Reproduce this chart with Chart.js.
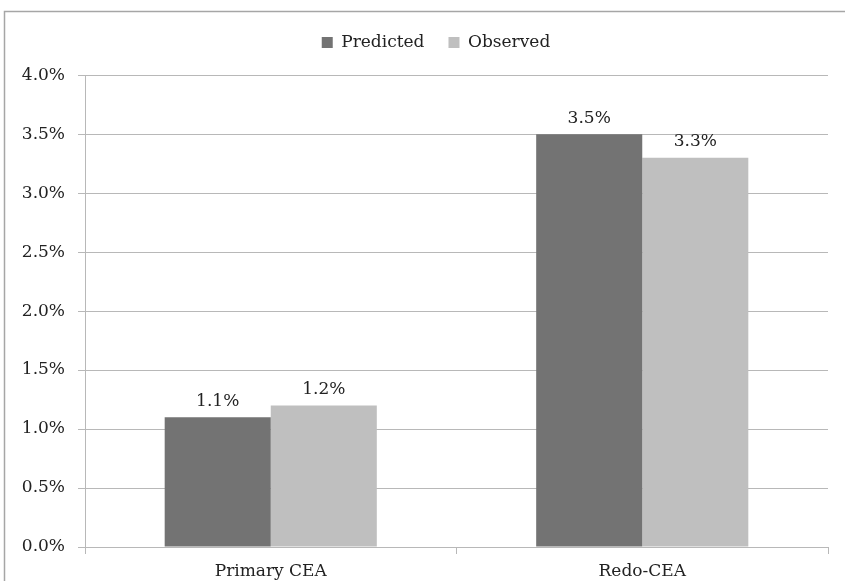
<!DOCTYPE html>
<html>
<head>
<meta charset="utf-8">
<script src="https://cdn.jsdelivr.net/npm/chart.js@4"></script>
<style>
  html, body { margin: 0; padding: 0; background: #fff; }
  #wrap { width: 845px; height: 581px; position: relative; }
</style>
</head>
<body>
<div id="wrap"><canvas id="cmpChart" width="845" height="581"></canvas></div>
<script>
// Predicted vs observed rates
const categories = ['Primary CEA', 'Redo-CEA'];
const predicted = [1.1, 3.5];
const observed = [1.2, 3.3];
const yTicks = [0, 0.5, 1.0, 1.5, 2.0, 2.5, 3.0, 3.5, 4.0];

const FONT = "'DejaVu Serif', serif";
const GRID = '#b8b8b8';

// frame around the chart, legend nudge, value labels above bars
const extras = {
    id: 'extras',
    afterLayout(chart) {
        chart.legend.left += 22;
        chart.legend.right += 22;
    },
    afterDraw(chart) {
        const c = chart.ctx;
        c.save();
        c.strokeStyle = '#a6a6a6';
        c.lineWidth = 1.5;
        c.strokeRect(4.5, 11.5, 900, 700);
        c.fillStyle = '#222';
        c.font = '17px ' + FONT;
        c.textAlign = 'center';
        c.textBaseline = 'middle';
        chart.data.datasets.forEach((ds, i) => {
            chart.getDatasetMeta(i).data.forEach((bar, j) => {
                c.fillText(ds.data[j].toFixed(1) + '%', bar.x, bar.y - 16);
            });
        });
        c.restore();
    }
};

const ctx = document.getElementById('cmpChart').getContext('2d');
const cmpChart = new Chart(ctx, {
    type: 'bar',
    data: {
        labels: categories,
        datasets: [{
            label: 'Predicted',
            data: predicted,
            backgroundColor: '#737373',
            categoryPercentage: 0.571,
            barPercentage: 1.0
        }, {
            label: 'Observed',
            data: observed,
            backgroundColor: '#bfbfbf',
            categoryPercentage: 0.571,
            barPercentage: 1.0
        }]
    },
    options: {
        responsive: false,
        animation: false,
        layout: { padding: { left: 0, right: 17, top: 10, bottom: 0 } },
        plugins: {
            legend: {
                position: 'top',
                labels: {
                    font: { family: FONT, size: 17 },
                    color: '#222',
                    boxWidth: 11,
                    boxHeight: 11,
                    padding: 24
                }
            },
            // empty spacer between legend and plot
            subtitle: {
                display: true,
                text: '',
                weight: 500,
                font: { size: 1 },
                padding: { top: 0, bottom: 13 }
            },
            tooltip: { enabled: false }
        },
        scales: {
            x: {
                afterFit(scale) { scale.height = 34; },
                grid: { drawOnChartArea: false, color: GRID, tickLength: 7 },
                border: { color: GRID },
                ticks: { font: { family: FONT, size: 17 }, color: '#222', padding: 7 }
            },
            y: {
                min: 0,
                max: 4,
                afterFit(scale) { scale.width = 85; },
                afterBuildTicks(scale) { scale.ticks = yTicks.map(v => ({ value: v })); },
                grid: { color: GRID, tickLength: 7 },
                border: { color: GRID },
                ticks: {
                    font: { family: FONT, size: 17 },
                    color: '#222',
                    padding: 13,
                    callback: v => v.toFixed(1) + '%'
                }
            }
        }
    },
    plugins: [extras]
});
</script>
</body>
</html>
